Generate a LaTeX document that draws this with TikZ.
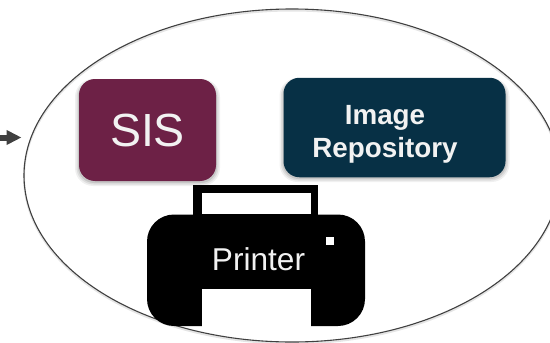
\documentclass[tikz,border=0pt]{standalone}
\usepackage{fontspec}
\setmainfont{Liberation Sans}
\usetikzlibrary{shapes.geometric,arrows.meta}
\definecolor{sisc}{HTML}{6D2146}
\definecolor{repoc}{HTML}{073045}
\definecolor{linec}{HTML}{404040}
\definecolor{textc}{HTML}{F2F2F2}
\tikzset{
  x=1pt,y=-1pt,
  boxnode/.style={rounded corners=16pt,inner sep=0pt,outer sep=0pt,text=textc,align=center},
  softa/.style={fill=black,fill opacity=0.06,draw=none,rounded corners=18pt},
  softb/.style={fill=black,fill opacity=0.08,draw=none,rounded corners=17pt},
  softc/.style={fill=black,fill opacity=0.10,draw=none,rounded corners=16pt},
  zoneshape/.style={ellipse,inner sep=0pt,outer sep=0pt,minimum width=536pt,minimum height=333pt},
  ink/.style={fill=black,draw=none},
  gap/.style={fill=white,draw=none},
  flow/.style={line width=6pt,draw=linec,-{Triangle[length=15pt,width=14pt,fill=linec]},shorten >=0pt},
}
\begin{document}
\begin{tikzpicture}
\useasboundingbox (0,0) rectangle (550,343);
\clip (0,0) rectangle (550,343);
\fill[white] (0,0) rectangle (550,343);
% soft shadow of the ellipse
\node[zoneshape,draw=black,draw opacity=0.10,line width=2pt] at (292,177) {};
\node[zoneshape,draw=linec,line width=1.1pt] (zone) at (292,175.5) {};
\coordinate (arrowstart) at (-2,137.5);
\coordinate (arrowend) at (21.5,137.5);
\draw[flow] (arrowstart) -- (arrowend);
% box shadows
\fill[softa] (75,79) rectangle (220,186);
\fill[softb] (76.5,80) rectangle (218.5,184.5);
\fill[softc] (78,81) rectangle (217,183);
\fill[softa] (279.5,78) rectangle (509.5,182);
\fill[softb] (281,79) rectangle (508,180.5);
\fill[softc] (282.5,80) rectangle (506.5,179);
\node[boxnode,fill=sisc,minimum width=137pt,minimum height=102pt,font=\fontsize{46.5}{50}\selectfont] (sis) at (147.5,130) {SIS};
\node[boxnode,fill=repoc,minimum width=222pt,minimum height=99.5pt] (repo) at (394.5,127.5) {};
\node[text=textc,inner sep=0pt,align=center,font=\fontsize{27.8}{33}\selectfont\bfseries] (repotext) at (385,134) {Image\\Repository};
% printer
\fill[ink] (193,185) rectangle (318,216);
\fill[gap] (201.5,192.5) rectangle (310.5,214);
\fill[ink,rounded corners=27pt] (147,214.5) rectangle (365,326);
\fill[gap] (201.5,288.5) rectangle (310.5,327);
\fill[gap] (326,237) rectangle (334,244.5);
\node[text=textc,inner sep=0pt,font=\fontsize{31.6}{36}\selectfont] (printer) at (258.5,259) {Printer};
\end{tikzpicture}
\end{document}
